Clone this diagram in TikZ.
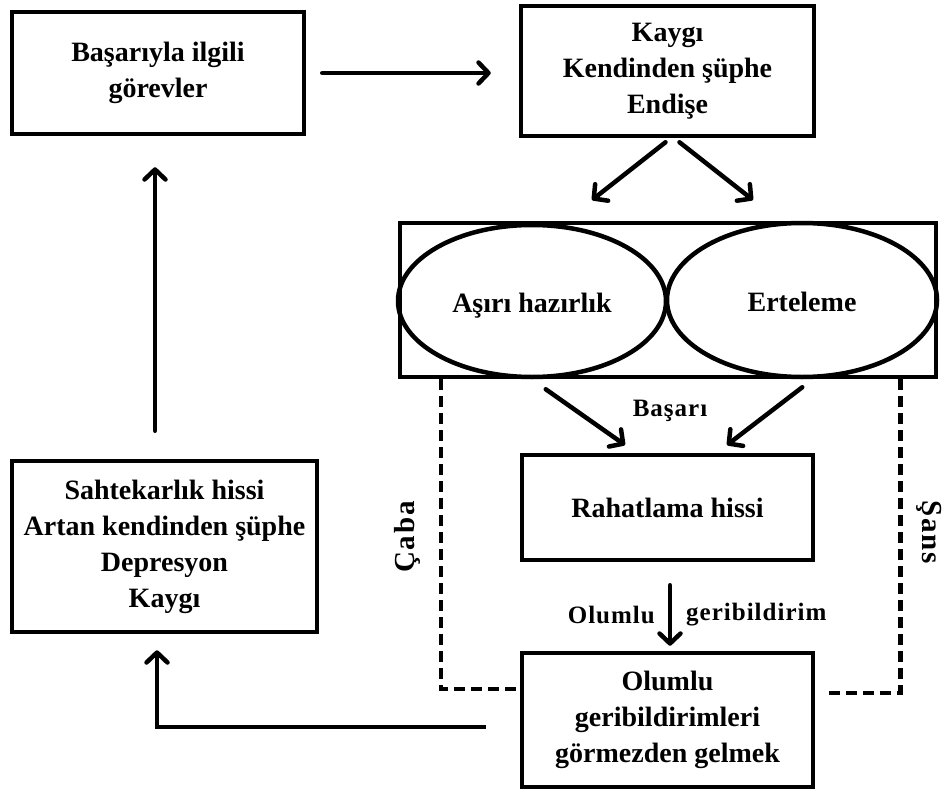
\documentclass[tikz,border=0pt]{standalone}
\usepackage{fontspec}
\setmainfont{Liberation Serif}
\newfontfamily\lblfont{Liberation Serif}[LetterSpace=4]
\newfontfamily\sidefont{Liberation Serif}[LetterSpace=6]
\usetikzlibrary{arrows.meta,shapes.geometric}
\tikzset{
  box/.style={draw, line width=4.5pt, inner sep=0pt, align=center,
    font=\fontsize{28}{36}\selectfont\bfseries},
  ell/.style={draw, ellipse, line width=4.5pt, inner sep=0pt},
  arr/.style={line width=4.5pt, line cap=round,
    -{Straight Barb[length=10pt,width=21pt,round]}},
  dashln/.style={line width=4.5pt, dash pattern=on 11pt off 6pt},
  lbl/.style={inner sep=0pt, font=\lblfont\fontsize{25}{29}\selectfont\bfseries},
  side/.style={inner sep=0pt, font=\sidefont\fontsize{29}{34}\selectfont\bfseries}
}
\begin{document}
\begin{tikzpicture}[x=1pt,y=-1pt]
\useasboundingbox (0,0) rectangle (948,792);
% boxes
\node[box, minimum width=292pt, minimum height=122pt] (b1) at (158,73)
  {Başarıyla ilgili\\görevler};
\node[box, minimum width=293pt, minimum height=130pt] (b2) at (667.5,71)
  {Kaygı\\Kendinden şüphe\\Endişe};
\node[draw, line width=4.5pt, minimum width=536pt, minimum height=154pt, inner sep=0pt] (big) at (668,300) {};
\node[ell, minimum width=268pt, minimum height=152pt] (e1) at (532,301) {};
\node[ell, minimum width=270pt, minimum height=154pt] (e2) at (802,300) {};
\node[inner sep=0pt, font=\fontsize{28}{36}\selectfont\bfseries] (t1) at (532,306) {Aşırı hazırlık};
\node[inner sep=0pt, font=\fontsize{28}{36}\selectfont\bfseries] (t2) at (802,302) {Erteleme};
\node[box, minimum width=291pt, minimum height=105pt] (rah) at (667.5,507.5)
  {Rahatlama hissi};
\node[box, minimum width=291pt, minimum height=134pt] (bot) at (667.5,720)
  {Olumlu\\geribildirimleri\\görmezden gelmek};
\node[box, minimum width=305pt, minimum height=171pt] (lb) at (164.5,546.5)
  {Sahtekarlık hissi\\Artan kendinden şüphe\\Depresyon\\Kaygı};
% labels
\node[lbl] (lbas) at (670,411) {Başarı};
\node[lbl, anchor=east] (lol) at (655,615) {Olumlu};
\node[lbl, anchor=west] (lger) at (686,615) {geribildirim};
\node[side, rotate=90] (lcaba) at (407,537) {Çaba};
\node[side, rotate=-90] (lsans) at (929,532) {Şans};
% arrow end coordinates
\coordinate (a1) at (592,200);
\coordinate (a2) at (753,200);
\coordinate (r1) at (625,445);
\coordinate (r2) at (727,445);
% connectors
\draw[arr] ([xshift=16pt]b1.east) -- ([xshift=-28pt]b1.east -| b2.west);
\draw[arr] ([xshift=-2pt,yshift=-4pt]b2.south) -- (a1);
\draw[arr] ([xshift=12pt,yshift=-4pt]b2.south) -- (a2);
\draw[arr] ([xshift=148pt,yshift=-10pt]big.south west) -- (r1);
\draw[arr] ([xshift=-136pt,yshift=-8pt]big.south east) -- (r2);
\draw[arr] ([xshift=2.5pt,yshift=-23pt]rah.south) -- ([xshift=2.5pt,yshift=5pt]bot.north);
\draw[arr] ([xshift=-9.5pt,yshift=28pt]lb.north) -- ([xshift=-9.5pt,yshift=-31pt]lb.north |- b1.south);
\draw[arr, line cap=butt] ([xshift=-34pt,yshift=-7pt]bot.west) -| ([xshift=-7.5pt,yshift=-16pt]lb.south);
\draw[dashln] ([xshift=43pt]big.south west) |- ([yshift=31pt]bot.west);
\draw[dashln] ([xshift=-38pt]big.south east) |- ([xshift=12pt,yshift=27pt]bot.east);
\end{tikzpicture}
\end{document}
